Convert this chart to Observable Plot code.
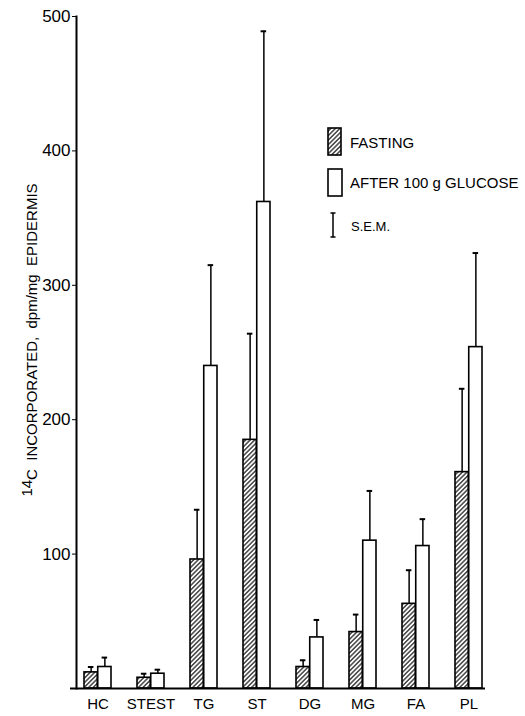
<!DOCTYPE html>
<html><head><meta charset="utf-8">
<script src="https://cdn.jsdelivr.net/npm/d3@7"></script>
<script src="https://cdn.jsdelivr.net/npm/@observablehq/plot@0.6"></script>
<style>body{margin:0;background:#fff} svg{display:block}</style>
</head><body><div id="chart"></div>
<script>
// ---- data ----
const categories = ["HC", "STEST", "TG", "ST", "DG", "MG", "FA", "PL"];
const fasting = [12, 8, 96, 185, 16, 42, 63, 161];
const fastingSEM = [4, 3, 37, 79, 5, 13, 25, 62];
const afterGlucose = [16, 11, 240, 362, 38, 110, 106, 254];
const afterGlucoseSEM = [7, 3, 75, 127, 13, 37, 20, 70];
const yTicks = [100, 200, 300, 400, 500];
const legendLabels = ["FASTING", "AFTER 100 g GLUCOSE", "S.E.M."];
const yLabelSup = "14";
const yLabelRest = "C  INCORPORATED,  dpm/mg  EPIDERMIS";

// ---- layout ----
const W = 525, H = 716, mL = 76, mR = 35, mT = 16, mB = 28;
const padIn = 0.484, padOut = 0.13;
const step = (W - mL - mR) / (categories.length - padIn + 2 * padOut);
const bw = step * (1 - padIn);
const half = bw / 2;
const cap = 3;
const font = "'Liberation Sans', Arial, sans-serif";

const fData = categories.map((c, i) => ({cat: c, v: fasting[i], top: fasting[i] + fastingSEM[i]}));
const aData = categories.map((c, i) => ({cat: c, v: afterGlucose[i], top: afterGlucose[i] + afterGlucoseSEM[i]}));

const svg = Plot.plot({
  width: W, height: H,
  marginLeft: mL, marginRight: mR, marginTop: mT, marginBottom: mB,
  style: {fontFamily: font, background: "white", color: "black"},
  x: {domain: categories, paddingInner: padIn, paddingOuter: padOut, label: null},
  y: {domain: [0, 500], label: null},
  marks: [
    Plot.ruleX(fData, {x: "cat", y1: "v", y2: "top", dx: -half / 2, strokeWidth: 1.5}),
    Plot.ruleX(aData, {x: "cat", y1: "v", y2: "top", dx: half / 2, strokeWidth: 1.5}),
    Plot.tickY(fData, {x: "cat", y: "top", insetLeft: half / 2 - cap, insetRight: 1.5 * half - cap, strokeWidth: 2}),
    Plot.tickY(aData, {x: "cat", y: "top", insetLeft: 1.5 * half - cap, insetRight: half / 2 - cap, strokeWidth: 2}),
    Plot.barY(fData, {x: "cat", y: "v", insetRight: half, fill: "url(#hatch)", stroke: "black", strokeWidth: 1.6}),
    Plot.barY(aData, {x: "cat", y: "v", insetLeft: half, fill: "white", stroke: "black", strokeWidth: 1.6}),
    Plot.ruleY([0], {strokeWidth: 2, insetLeft: -6, insetRight: 5}),
    Plot.frame({anchor: "left", strokeWidth: 2}),
    Plot.axisX({tickSize: 0, tickPadding: 10, fontSize: 15, label: null}),
    Plot.axisY({ticks: yTicks, tickSize: 4, tickPadding: 2, fontSize: 17, label: null})
  ]
});
document.getElementById("chart").appendChild(svg);

const s = d3.select(svg);
const defs = s.insert("defs", ":first-child");
const pat = defs.append("pattern").attr("id", "hatch").attr("patternUnits", "userSpaceOnUse")
  .attr("width", 3.2).attr("height", 6).attr("patternTransform", "rotate(45)");
pat.append("rect").attr("width", 3.2).attr("height", 6).attr("fill", "white");
pat.append("line").attr("x1", 1.6).attr("x2", 1.6).attr("y1", 0).attr("y2", 6)
  .attr("stroke", "black").attr("stroke-width", 1.1);

// legend
const lg = s.append("g").attr("font-family", font).attr("fill", "black").attr("text-anchor", "start");
lg.append("rect").attr("x", 328).attr("y", 128).attr("width", 13).attr("height", 27)
  .attr("fill", "url(#hatch)").attr("stroke", "black").attr("stroke-width", 1.6);
lg.append("rect").attr("x", 328).attr("y", 169).attr("width", 14).attr("height", 27)
  .attr("fill", "white").attr("stroke", "black").attr("stroke-width", 1.6);
lg.append("path").attr("d", "M333,213V237M330.5,213H335.5M330.5,237H335.5")
  .attr("stroke", "black").attr("stroke-width", 1.5).attr("fill", "none");
lg.append("text").attr("x", 350).attr("y", 148).attr("font-size", 15).text(legendLabels[0]);
lg.append("text").attr("x", 350).attr("y", 188).attr("font-size", 15).text(legendLabels[1]);
lg.append("text").attr("x", 351).attr("y", 231).attr("font-size", 13).text(legendLabels[2]);

// y-axis title
const yt = s.append("text").attr("font-family", font).attr("font-size", 15).attr("fill", "black")
  .attr("text-anchor", "middle").attr("transform", "translate(37,340) rotate(-90)");
yt.append("tspan").attr("dy", -5).text(yLabelSup);
yt.append("tspan").attr("dy", 5).attr("xml:space", "preserve").style("white-space", "pre").text(yLabelRest);
</script>
</body></html>
